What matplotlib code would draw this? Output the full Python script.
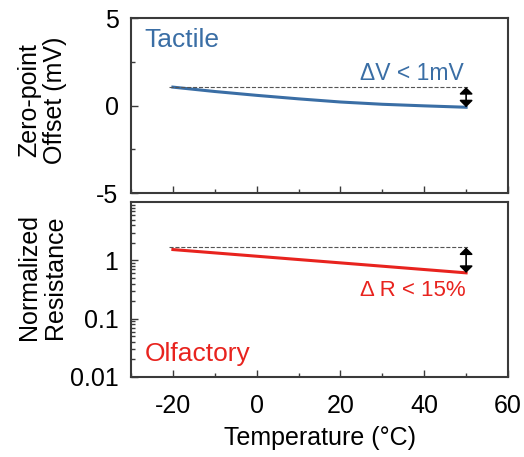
import matplotlib.pyplot as plt
import numpy as np
from matplotlib.ticker import MultipleLocator, FixedLocator, NullFormatter

plt.rcParams['font.family'] = ['Liberation Sans', 'DejaVu Sans']
plt.rcParams['axes.unicode_minus'] = False

# tactile: zero-point offset (mV) vs temperature
temp_t = [-20, -10, 0, 10, 20, 30, 40, 50]
offset_t = [1.05, 0.8, 0.58, 0.38, 0.2, 0.07, -0.02, -0.1]

# olfactory: normalized resistance vs temperature
temp_o = [-20, 50]
resist_o = [1.53, 0.61]

blue = '#3a6ea5'
red = '#e8231e'
frame = '#3a3a3a'
arrow = '<|-|>,head_length=0.4,head_width=0.4'

fig = plt.figure(figsize=(5.24, 4.57), dpi=100)
ax1 = fig.add_axes([131 / 524, 1 - 193 / 457, 377 / 524, 175 / 457])
ax2 = fig.add_axes([131 / 524, 1 - 377 / 457, 377 / 524, 175 / 457])

for ax in (ax1, ax2):
    for s in ax.spines.values():
        s.set_color(frame)
        s.set_linewidth(1.5)
    ax.set_xlim(-30, 60)
    ax.xaxis.set_major_locator(MultipleLocator(20))
    ax.xaxis.set_minor_locator(MultipleLocator(10))
    ax.tick_params(which='both', direction='in', top=False, right=False,
                   labelsize=18, color=frame, pad=9)
    ax.tick_params(which='major', length=5, width=1)
    ax.tick_params(which='minor', length=3, width=1)

# top panel
ax1.plot(temp_t, offset_t, color=blue, lw=2.2)
ax1.plot([-21, 50.5], [offset_t[0], offset_t[0]], ls='--', color='#555555', lw=0.8)
ax1.annotate('', xy=(50, offset_t[-1]), xytext=(50, offset_t[0]),
             arrowprops=dict(arrowstyle=arrow, color='black', lw=1.2,
                             mutation_scale=10, shrinkA=0, shrinkB=0))
ax1.set_ylim(-5, 5)
ax1.yaxis.set_major_locator(MultipleLocator(5))
ax1.yaxis.set_minor_locator(MultipleLocator(2.5))
ax1.set_xticklabels([])
ax1.text(-26.7, 3.75, 'Tactile', color=blue, fontsize=19, va='center', ha='left')
ax1.text(49.5, 1.85, 'ΔV < 1mV', color=blue, fontsize=16.5, va='center', ha='right')
ax1.set_ylabel('Zero-point\nOffset (mV)', fontsize=18, linespacing=1.1)
ax1.yaxis.set_label_coords(-0.17, 0.53)

# bottom panel
ax2.set_yscale('log')
ax2.plot(temp_o, resist_o, color=red, lw=2.2)
ax2.plot([-21, 50.5], [1.66, 1.66], ls='--', color='#555555', lw=0.8)
ax2.annotate('', xy=(50, resist_o[-1]), xytext=(50, 1.66),
             arrowprops=dict(arrowstyle=arrow, color='black', lw=1.2,
                             mutation_scale=10, shrinkA=0, shrinkB=0))
ax2.set_ylim(0.01, 10)
ax2.yaxis.set_major_locator(FixedLocator([0.01, 0.1, 1]))
ax2.set_yticklabels(['0.01', '0.1', '1'])
ax2.yaxis.set_minor_formatter(NullFormatter())
ax2.tick_params(axis='x', pad=12)
ax2.text(50, 0.3, 'Δ R < 15%', color=red, fontsize=16, va='center', ha='right')
ax2.text(-26.7, 0.025, 'Olfactory', color=red, fontsize=19, va='center', ha='left')
ax2.set_ylabel('Normalized\nResistance', fontsize=18, linespacing=1.1)
ax2.yaxis.set_label_coords(-0.17, 0.57)
ax2.set_xlabel('Temperature (°C)', fontsize=18, labelpad=6)

fig.savefig('out.png', dpi=100)
